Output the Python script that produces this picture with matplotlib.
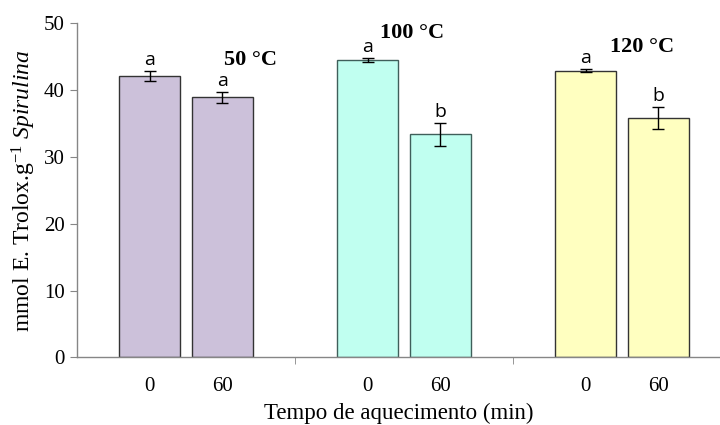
import matplotlib
matplotlib.use('Agg')
import matplotlib.pyplot as plt
import numpy as np

temps = ['50 °C', '100 °C', '120 °C']
times = ['0', '60']
means_0 = [42.15, 44.5, 42.9]
means_60 = [38.9, 33.4, 35.8]
err_0 = [0.75, 0.3, 0.25]
err_60 = [0.8, 1.7, 1.65]
letters_0 = ['a', 'a', 'a']
letters_60 = ['a', 'b', 'b']
colors = ['#ccc1da', '#c0fff0', '#ffffc0']
edges = ['#333333', '#3f5f5a', '#333333']
temp_label_pos = [(0.294, 44.5), (1.037, 48.5), (2.09, 46.4)]

plt.rcParams['font.family'] = 'Liberation Serif'
plt.rcParams['mathtext.fontset'] = 'custom'
plt.rcParams['mathtext.rm'] = 'Liberation Serif'
plt.rcParams['mathtext.it'] = 'Liberation Serif:italic'

fig = plt.figure(figsize=(7.2, 4.25), dpi=100)
ax = fig.add_axes([77 / 720, (425 - 357.3) / 425, 1 - 77 / 720, (357.3 - 23.3) / 425])

ind = np.arange(len(temps))
width = 0.28
off = 0.166
axis_col = '#868686'

for i in ind:
    for x, m, e, let in [(i - off, means_0[i], err_0[i], letters_0[i]),
                         (i + off, means_60[i], err_60[i], letters_60[i])]:
        ax.bar(x, m, width, color=colors[i], edgecolor=edges[i], linewidth=1.0, zorder=2)
        ax.errorbar(x, m, yerr=e, fmt='none', ecolor='black', elinewidth=1.0,
                    capsize=4, capthick=1.0, zorder=3)
        ax.annotate(let, (x, m + e), xytext=(0, 1.5), textcoords='offset points',
                    ha='center', va='bottom', fontsize=14, family='Open Sans')
    tx, ty = temp_label_pos[i]
    ax.text(tx, ty, temps[i], ha='center', va='center', fontsize=16, fontweight='bold')

ax.set_xlim(-0.5, (720 - 77) / 218 - 0.5)
ax.set_ylim(0, 50)
ax.set_yticks([0, 10, 20, 30, 40, 50])
ax.tick_params(axis='y', labelsize=15, length=5, color=axis_col, direction='out', pad=4)

# time labels under each bar, category separator ticks
xt = np.concatenate([ind - off, ind + off])
ax.set_xticks(xt)
ax.set_xticklabels(times[:1] * 3 + times[1:] * 3)
ax.tick_params(axis='x', which='major', length=0, labelsize=15, pad=14)
ax.set_xticks([0.5, 1.5], minor=True)
ax.tick_params(axis='x', which='minor', length=5, color=axis_col, direction='out')

for s in ['top', 'right']:
    ax.spines[s].set_visible(False)
for s in ['left', 'bottom']:
    ax.spines[s].set_color(axis_col)
    ax.spines[s].set_linewidth(1.0)

ax.set_xlabel('Tempo de aquecimento (min)', fontsize=16.5, labelpad=5)
ax.set_ylabel(r'mmol E. Trolox.g$^{\mathregular{-1}}$ $\it{Spirulina}$', fontsize=17, labelpad=4)

fig.savefig('out.png', dpi=100)
plt.close()
